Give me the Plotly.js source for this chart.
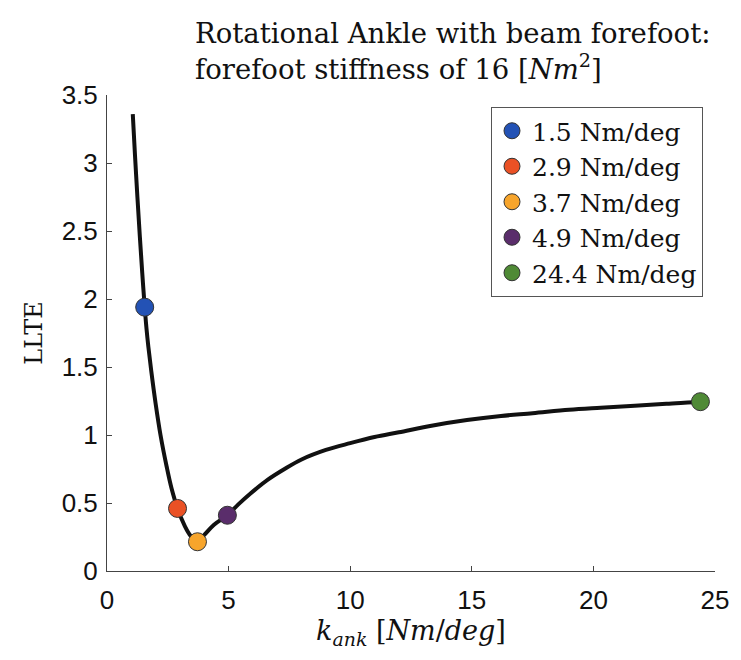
<!DOCTYPE html>
<html>
<head>
<meta charset="utf-8">
<script src="https://cdn.plot.ly/plotly-3.0.1.min.js"></script>
<style>html,body{margin:0;padding:0;background:#fff;}#chart{width:741px;height:660px;}</style>
</head>
<body>
<div id="chart"></div>
<script>
// Curve: LLTE vs ankle stiffness
const kAnk = [1.06, 1.15, 1.25, 1.35, 1.45, 1.55, 1.62, 1.70, 1.82, 2.0, 2.2, 2.45, 2.65, 2.9, 3.2, 3.45, 3.72, 4.0, 4.4, 4.95, 5.4, 5.9, 6.6, 7.3, 8.0, 9.0, 10, 11, 12, 13.4, 14.8, 16.2, 17.5, 19, 20.3, 21.7, 23, 24.4, 24.7];
const llte = [3.36, 3.06, 2.75, 2.46, 2.19, 1.94, 1.79, 1.65, 1.47, 1.23, 1.0, 0.77, 0.61, 0.46, 0.33, 0.255, 0.215, 0.265, 0.34, 0.41, 0.49, 0.57, 0.67, 0.75, 0.82, 0.89, 0.94, 0.985, 1.02, 1.07, 1.11, 1.14, 1.16, 1.185, 1.20, 1.215, 1.23, 1.245, 1.25];

// Highlighted stiffness points
const ptLabels = ["1.5 Nm/deg", "2.9 Nm/deg", "3.7 Nm/deg", "4.9 Nm/deg", "24.4 Nm/deg"];
const ptK = [1.55, 2.9, 3.72, 4.95, 24.4];
const ptLLTE = [1.94, 0.46, 0.215, 0.41, 1.245];
const ptColors = ["#2352b5", "#ea5125", "#f7a52c", "#5a2d6b", "#4f8a36"];

const xTicks = [0, 5, 10, 15, 20, 25];
const yTicks = [0, 0.5, 1, 1.5, 2, 2.5, 3, 3.5];
const yTickText = ["0", "0.5", "1", "1.5", "2", "2.5", "3", "3.5"];

const serif = "DejaVu Serif, Liberation Serif, serif";
const sans = "Liberation Sans, Arial, sans-serif";

const traces = [{
  x: kAnk, y: llte, type: "scatter", mode: "lines",
  line: {color: "#111", width: 4, shape: "spline", smoothing: 1},
  showlegend: false, hoverinfo: "skip"
}];
for (let i = 0; i < ptK.length; i++) {
  traces.push({
    x: [ptK[i]], y: [ptLLTE[i]], type: "scatter", mode: "markers",
    name: ptLabels[i],
    marker: {color: ptColors[i], size: 18, line: {color: "#333", width: 1}}
  });
}

const layout = {
  width: 741, height: 660,
  margin: {l: 107, r: 26, t: 95, b: 89},
  paper_bgcolor: "#fff", plot_bgcolor: "#fff",
  title: {
    text: "Rotational Ankle with beam forefoot:<br>forefoot stiffness of 16 [<i>Nm</i><sup>2</sup>]",
    font: {family: serif, size: 27.5, color: "#111"},
    x: 195/741, xanchor: "left", xref: "container", y: 0.935, yanchor: "top", yref: "container"
  },
  xaxis: {
    range: [0, 25], tickvals: xTicks, ticktext: xTicks.map(String),
    ticks: "inside", ticklen: 5, tickcolor: "#444", ticklabelstandoff: 6,
    showline: true, linecolor: "#444", linewidth: 1, showgrid: false, zeroline: false,
    tickfont: {family: sans, size: 26, color: "#111"},
    title: {text: "<i>k</i><sub><i>ank</i></sub> [<i>Nm</i>/<i>deg</i>]", font: {family: serif, size: 27, color: "#111"}, standoff: 6}
  },
  yaxis: {
    range: [0, 3.5], tickvals: yTicks, ticktext: yTickText,
    ticks: "inside", ticklen: 5, tickcolor: "#444", ticklabelstandoff: 3,
    showline: true, linecolor: "#444", linewidth: 1, showgrid: false, zeroline: false,
    tickfont: {family: sans, size: 26, color: "#111"},
    title: {text: "LLTE", font: {family: serif, size: 24, color: "#111"}, standoff: 12}
  },
  legend: {
    x: (491-107)/608, y: (571-107)/476, xanchor: "left", yanchor: "top",
    bgcolor: "#fff", bordercolor: "#555", borderwidth: 1,
    font: {family: serif, size: 25, color: "#111"},
    tracegroupgap: 0, itemsizing: "trace"
  },
  showlegend: true
};

Plotly.newPlot("chart", traces, layout, {displayModeBar: false, staticPlot: true});
</script>
</body>
</html>
